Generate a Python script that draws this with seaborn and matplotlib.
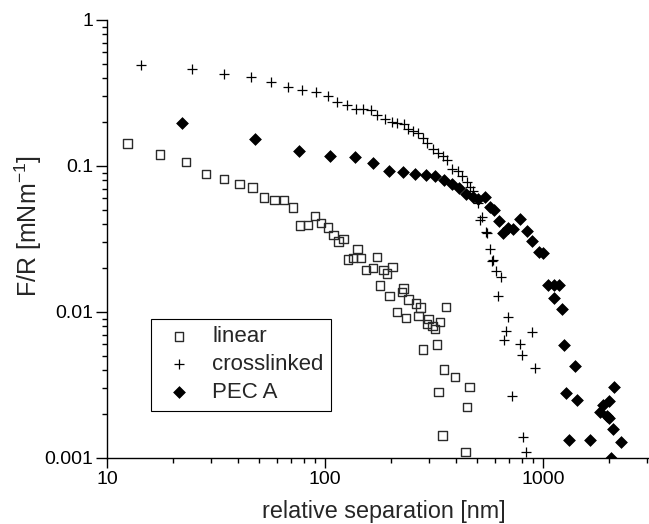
import numpy as np
import pandas as pd
import matplotlib
matplotlib.use("Agg")
import matplotlib.pyplot as plt
from matplotlib.ticker import FuncFormatter, LogLocator, NullFormatter
import seaborn as sns

# ---- data ----
linear_x = [12.4, 17.5, 23.0, 28.4, 34.4, 40.5, 46.4, 52.5, 58.5, 64.8, 71.1, 76.8, 83.3,
            90.0, 95.9, 102.9, 109.2, 115.1, 121.3, 127.1, 134.0, 140.7, 146.3, 154.2,
            165.5, 172.7, 178.8, 185.1, 191.9, 197.2, 204.0, 213.3, 224.8, 228.6, 235.2,
            241.6, 261.5, 267.9, 273.7, 280.7, 292.7, 297.8, 310.6, 319.6, 325.4, 331.0,
            337.0, 345.2, 351.6, 358.9, 394.9, 440.2, 448.2, 459.2]
linear_y = [0.1426, 0.1199, 0.1062, 0.0879, 0.0817, 0.0750, 0.0712, 0.0608, 0.0583, 0.0583,
            0.0520, 0.0390, 0.0393, 0.0456, 0.0406, 0.0379, 0.0338, 0.0303, 0.0317, 0.0229,
            0.0235, 0.0271, 0.0234, 0.0193, 0.0201, 0.0237, 0.0152, 0.0194, 0.0183, 0.0128,
            0.0203, 0.00997, 0.01367, 0.0145, 0.00913, 0.01218, 0.01143, 0.00936, 0.01073,
            0.00554, 0.0083, 0.00898, 0.0080, 0.00767, 0.00599, 0.00282, 0.00851, 0.001426,
            0.00404, 0.01085, 0.00358, 0.001096, 0.00223, 0.00305]

cross_x = [14.3, 24.4, 34.4, 45.9, 56.4, 67.4, 78.4, 90.9, 102.7, 113.9, 125.8, 138.0, 149.9,
           162.6, 173.2, 188.4, 202.9, 213.3, 229.1, 240.3, 253.3, 265.6, 281.5, 293.8,
           314.0, 331.0, 347.8, 361.6, 381.3, 408.7, 426.4, 445.8, 462.6, 478.9, 505.0,
           523.5, 514.0, 547.6, 555.3, 571.3, 591.6, 581.7, 610.7, 641.8, 623.5, 691.0,
           676.6, 890.3, 662.4, 787.0, 798.7, 919.0, 717.0, 812.2, 835.6]
cross_y = [0.490, 0.458, 0.4233, 0.4057, 0.375, 0.3486, 0.3316, 0.3188, 0.3001, 0.2757,
           0.263, 0.2454, 0.2454, 0.240, 0.2218, 0.2099, 0.2008, 0.1955, 0.1924, 0.1798,
           0.1737, 0.1670, 0.1543, 0.143, 0.1308, 0.1224, 0.1167, 0.1091, 0.0946, 0.0927,
           0.0852, 0.0777, 0.0718, 0.0672, 0.0556, 0.0447, 0.0423, 0.0353, 0.0349, 0.0269,
           0.02263, 0.02218, 0.01894, 0.01737, 0.01287, 0.00917, 0.00735, 0.00724, 0.00643,
           0.00599, 0.00504, 0.00415, 0.00264, 0.00139, 0.0011]

pec_x = [22.0, 47.7, 76.0, 105.8, 136.7, 166.6, 196.6, 226.7, 258.2, 289.1, 320.6, 350.4,
         382.4, 412.6, 442.4, 475.0, 505.0, 540.3, 568.4, 597.2, 626.2, 657.4, 693.0, 724.5,
         784.6, 841.9, 890.3, 960.5, 1000.0, 1057.6, 1119.7, 1177.9, 1117.4, 1218.5, 1244.6,
         1402.8, 1275.1, 1432.2, 2121.6, 2014.0, 1884.8, 1820.3, 1966.0, 2014.0, 2094.9,
         1319.1, 1648.1, 2284.0, 2044.0]
pec_y = [0.1955, 0.1519, 0.1263, 0.1162, 0.1152, 0.1052, 0.0921, 0.0912, 0.0886, 0.0871,
         0.0847, 0.0796, 0.0750, 0.0704, 0.0646, 0.0613, 0.0597, 0.0611, 0.0524, 0.0498,
         0.0419, 0.0350, 0.0377, 0.0369, 0.0436, 0.0358, 0.0304, 0.02556, 0.02516, 0.0153,
         0.0152, 0.01527, 0.01252, 0.01054, 0.00594, 0.00425, 0.00278, 0.0025, 0.00306,
         0.00247, 0.00231, 0.00206, 0.00195, 0.00188, 0.00159, 0.00133, 0.00133, 0.00128,
         0.0010]

series_names = ["linear", "crosslinked", "PEC A"]
x_label = "relative separation [nm]"
y_label = "F/R [mNm$^{-1}$]"

# ---- style ----
sns.set_style("ticks")
plt.rcParams["font.family"] = ["Liberation Sans", "DejaVu Sans"]
plt.rcParams["mathtext.fontset"] = "custom"
plt.rcParams["mathtext.rm"] = "Liberation Sans"
plt.rcParams["mathtext.it"] = "Liberation Sans:italic"
plt.rcParams["mathtext.bf"] = "Liberation Sans:bold"

fig = plt.figure(figsize=(6.49, 5.24), dpi=100)
ax = fig.add_axes([0.165, 0.126, 0.835, 0.836])

df_lin = pd.DataFrame({"x": linear_x, "y": linear_y})
df_cro = pd.DataFrame({"x": cross_x, "y": cross_y})
df_pec = pd.DataFrame({"x": pec_x, "y": pec_y})

sns.scatterplot(data=df_lin, x="x", y="y", ax=ax, marker="s", s=36,
                facecolor="none", edgecolor="#2a2a2a", linewidth=1.0,
                label=series_names[0], zorder=3)
sns.scatterplot(data=df_cro, x="x", y="y", ax=ax, marker="+", s=48,
                color="black", linewidth=0.9, label=series_names[1], zorder=3)
sns.scatterplot(data=df_pec, x="x", y="y", ax=ax, marker="D", s=36,
                color="black", edgecolor="black", linewidth=0.5,
                label=series_names[2], zorder=4)

ax.set_xscale("log")
ax.set_yscale("log")
ax.set_xlim(10, 3060)
ax.set_ylim(0.001, 1)

fmt = FuncFormatter(lambda v, _: f"{v:g}")
ax.xaxis.set_major_locator(LogLocator(base=10, numticks=10))
ax.yaxis.set_major_locator(LogLocator(base=10, numticks=10))
ax.xaxis.set_minor_locator(LogLocator(base=10, subs=np.arange(2, 10), numticks=20))
ax.yaxis.set_minor_locator(LogLocator(base=10, subs=np.arange(2, 10), numticks=20))
ax.xaxis.set_major_formatter(fmt)
ax.yaxis.set_major_formatter(fmt)
ax.xaxis.set_minor_formatter(NullFormatter())
ax.yaxis.set_minor_formatter(NullFormatter())

ax.tick_params(which="major", direction="out", length=7, width=1.0, labelsize=14,
               color="black", labelcolor="black")
ax.tick_params(which="minor", direction="out", length=3.8, width=1.0, color="black")
ax.tick_params(axis="y", which="major", length=8)
ax.tick_params(axis="x", which="major", pad=2.5)
ax.tick_params(axis="y", which="major", pad=2)

for side in ["top", "right"]:
    ax.spines[side].set_visible(False)
for side in ["left", "bottom"]:
    ax.spines[side].set_linewidth(1.0)
    ax.spines[side].set_color("black")

ax.set_xlabel(x_label, fontsize=16.8)
ax.xaxis.set_label_coords(0.511, -0.097)
ax.set_ylabel(y_label, fontsize=18)
ax.yaxis.set_label_coords(-0.117, 0.53)

leg = ax.legend(loc="upper left", bbox_to_anchor=(0.081, 0.318), fontsize=16,
                frameon=True, fancybox=False, edgecolor="black", framealpha=1,
                borderpad=0.35, labelspacing=0.3, handletextpad=0.6,
                handlelength=1.8, borderaxespad=0)
leg.get_frame().set_linewidth(0.8)

fig.savefig("out.png", dpi=100)
